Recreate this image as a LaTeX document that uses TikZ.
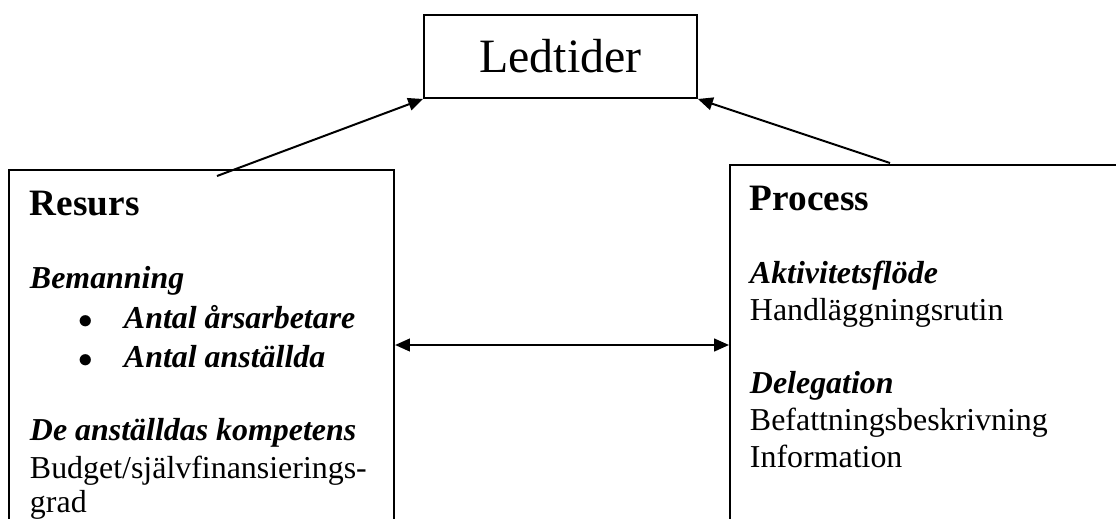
\documentclass[tikz,border=0pt]{standalone}
\usepackage{fontspec}
\setmainfont{Liberation Serif}
\usetikzlibrary{arrows.meta}

\tikzset{
	box/.style={draw, line width=0.75pt, inner sep=0pt},
	txt/.style={anchor=base west, inner sep=0pt, font=\fontsize{12}{13.8}\selectfont},
	head/.style={txt, font=\fontsize{14}{16}\selectfont\bfseries},
	sub/.style={txt, font=\fontsize{12}{13.8}\selectfont\bfseries\itshape},
	dot/.style={txt, font=\fontsize{10.5}{12}\selectfont}
}

\begin{document}
\begin{tikzpicture}[
	x=0.376pt,
	y=-0.376pt,
	>={Triangle[length=5.6pt,width=4.8pt]},
	line width=0.75pt
	]
	\useasboundingbox (0,0) rectangle (1116,519);
	\clip (0,0) rectangle (1116,519);
	\node[box, minimum width=102.6pt, minimum height=31.2pt, font=\fontsize{18}{20}\selectfont] (ledtider) at (560.5,56.5) {Ledtider};
	\node[box, anchor=north west, minimum width=144.8pt, minimum height=139.5pt] (resurs) at (8,169) {};
	\node[box, anchor=north west, minimum width=154.5pt, minimum height=141.4pt] (process) at (729,164) {};

	\node[head] (resursHead) at (29,215) {Resurs};
	\node[sub] (bemanning) at (29,288) {Bemanning};
	\node[dot] (dotA) at (78,328) {$\bullet$};
	\node[sub] (arsarbetare) at (123,328) {Antal årsarbetare};
	\node[dot] (dotB) at (78,367) {$\bullet$};
	\node[sub] (anstallda) at (123,367) {Antal anställda};
	\node[sub] (kompetens) at (29,440) {De anställdas kompetens};
	\node[txt] (budget) at (29,478) {Budget/självfinansierings-};
	\node[txt] (grad) at (29,512) {grad};

	\node[head] (processHead) at (749,210) {Process};
	\node[sub] (flode) at (749,283) {Aktivitetsflöde};
	\node[txt] (rutin) at (749,320) {Handläggningsrutin};
	\node[sub] (delegation) at (749,393) {Delegation};
	\node[txt] (befattning) at (749,430) {Befattningsbeskrivning};
	\node[txt] (information) at (749,467) {Information};

	\coordinate (resursFoot) at (217,176);
	\coordinate (processFoot) at (890,163);
	\coordinate (link) at (0,345);
	\draw[->] (resursFoot) -- (ledtider.south west);
	\draw[->] (processFoot) -- (ledtider.south east);
	\draw[<->] (resurs.east |- link) -- (process.west |- link);
\end{tikzpicture}
\end{document}
